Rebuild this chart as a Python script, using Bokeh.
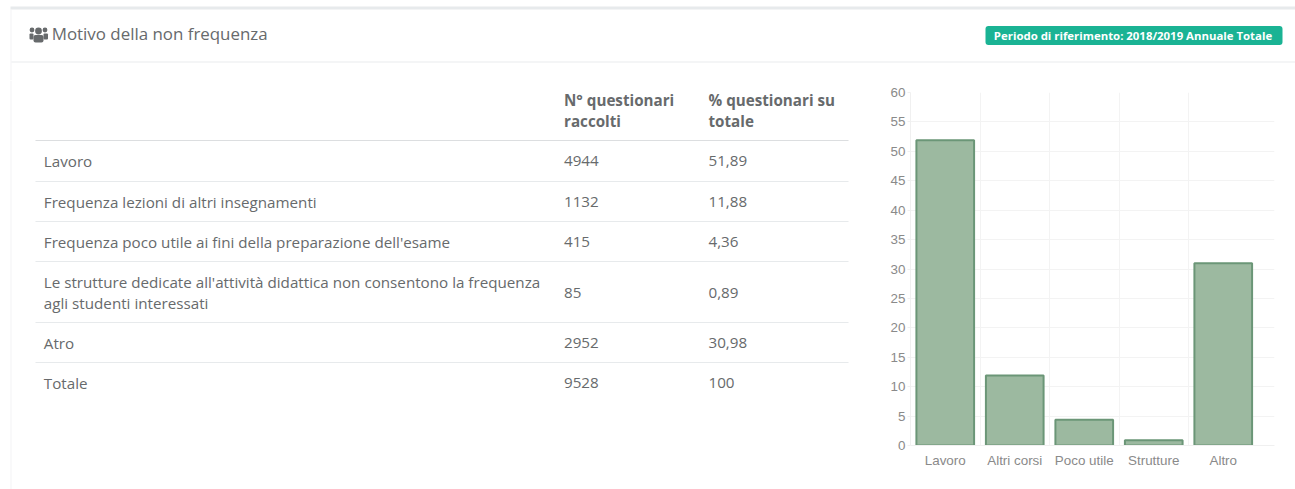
from bokeh.plotting import figure
from bokeh.embed import file_html
from bokeh.resources import INLINE
from bokeh.layouts import column, row
from bokeh.models import FixedTicker, Range1d
from bokeh.core.properties import value

# ---- data ----
short_labels = ["Lavoro", "Altri corsi", "Poco utile", "Strutture", "Altro"]
percent_values = [51.89, 11.88, 4.36, 0.89, 30.98]
y_ticks = [0, 5, 10, 15, 20, 25, 30, 35, 40, 45, 50, 55, 60]

title_text = "Motivo della non frequenza"
badge_text = "Periodo di riferimento: 2018/2019 Annuale Totale"
header_col2 = ["N° questionari", "raccolti"]
header_col3 = ["% questionari su", "totale"]
row_names = [
    ["Lavoro"],
    ["Frequenza lezioni di altri insegnamenti"],
    ["Frequenza poco utile ai fini della preparazione dell'esame"],
    ["Le strutture dedicate all'attività didattica non consentono la frequenza",
     "agli studenti interessati"],
    ["Atro"],
    ["Totale"],
]
row_counts = ["4944", "1132", "415", "85", "2952", "9528"]
row_percents = ["51,89", "11,88", "4,36", "0,89", "30,98", "100"]

# ---- layout constants (page pixels) ----
W, H = 1295, 489
TOP_H = 80
LEFT_W = 865
FL, FR, FT, FB = 910, 1274, 92, 445
TEXT = "#676a6c"
SANS = "Open Sans"
CAT = 69.5                     # category width in px
x_end = (FR - FL) / CAT - 0.5


def canvas(width, height, x0, y0):
    f = figure(width=width, height=height, output_backend="svg", toolbar_location=None,
               x_range=Range1d(x0, x0 + width), y_range=Range1d(y0 + height, y0),
               min_border=0, x_axis_type=None, y_axis_type=None, frame_align=False)
    f.grid.visible = False
    f.outline_line_color = None
    return f


def box(f, x0, y0, x1, y1, color, radius=0):
    f.quad(left=[x0], right=[x1], top=[y0], bottom=[y1], fill_color=color,
           line_color=None, border_radius=radius)


def label(f, x, y, s, size=15.2, color=TEXT, style="normal", align="left", font=SANS):
    f.text(x=[x], y=[y], text=[s], text_font=value(font), text_font_size=value(f"{size}px"),
           text_color=color, text_font_style=style, text_align=align, text_baseline="middle")


# ---- header strip ----
top = canvas(W, TOP_H, 0, 0)
box(top, 10, 6, W, 9, "#e7eaec")
box(top, 10, 9, 11, TOP_H, "#f3f4f5")
box(top, 11, 61, W, 62, "#e9ebed")

# icon
for cx, cy, r in ((38, 30.5, 3.4), (31.5, 29.5, 2.4), (44.5, 29.5, 2.4)):
    top.circle(x=[cx], y=[cy], radius=r, fill_color=TEXT, line_color=None)
box(top, 33, 34.5, 43, 42, TEXT, 2)
box(top, 29, 33, 33, 39, TEXT, 1)
box(top, 43, 33, 47.5, 39, TEXT, 1)

label(top, 51.2, 32.5, title_text, size=16.9)

box(top, 985, 25.5, 1282, 44.5, "#1ab394", 3)
label(top, 1132.5, 34.5, badge_text, size=11.4, color="white", style="bold", align="center")

# ---- table ----
tbl = canvas(LEFT_W, H - TOP_H, 0, TOP_H)
box(tbl, 10, TOP_H, 11, H, "#f3f4f5")
for i, s in enumerate(header_col2):
    label(tbl, 563.5, 99.5 + 21 * i, s, style="bold")
for i, s in enumerate(header_col3):
    label(tbl, 708, 99.5 + 21 * i, s, style="bold")

for y in (139.5, 180.5, 220.5, 260.5, 321.5, 361.5):
    box(tbl, 35, y, 848, y + 1, "#dcdee0" if y == 139.5 else "#e7eaec")

row_centres = (160.5, 201, 241.5, 292, 342, 382.5)
for names, cnt, pct, yc in zip(row_names, row_counts, row_percents, row_centres):
    for j, s in enumerate(names):
        label(tbl, 43.3, yc + (j - (len(names) - 1) / 2) * 20.5, s)
    label(tbl, 563.5, yc, cnt)
    label(tbl, 708, yc, pct)

# ---- bar chart ----
p = figure(width=W - LEFT_W, height=H - TOP_H, output_backend="svg", toolbar_location=None,
           x_range=Range1d(-0.5, x_end), y_range=Range1d(0, 60),
           min_border_left=FL - LEFT_W, min_border_right=W - FR,
           min_border_top=FT - TOP_H, min_border_bottom=H - FB, frame_align=False)
p.outline_line_color = None

xs = list(range(len(short_labels)))
p.vbar(x=xs, top=percent_values, bottom=0, width=0.83,
       fill_color="#9cb9a0", line_color="#6b9677", line_width=2)

p.xaxis.ticker = FixedTicker(ticks=xs)
p.xaxis.major_label_overrides = {i: s for i, s in enumerate(short_labels)}
p.yaxis.ticker = FixedTicker(ticks=y_ticks)
for ax in (p.xaxis[0], p.yaxis[0]):
    ax.axis_line_color = "#f0f0f0"
    ax.minor_tick_line_color = None
    ax.major_label_text_color = "#8a8a8a"
    ax.major_label_text_font = "Liberation Sans"
    ax.major_label_text_font_size = "13.4px"
p.xaxis.major_tick_line_color = None
p.yaxis.major_tick_line_color = "#f0f0f0"
p.yaxis.major_tick_in = 0
p.yaxis.major_tick_out = 3
p.xaxis.major_label_standoff = 1
p.yaxis.major_label_standoff = 2
p.xgrid.ticker = FixedTicker(ticks=[i - 0.5 for i in range(len(short_labels))])
p.ygrid.ticker = FixedTicker(ticks=y_ticks)
p.xgrid.grid_line_color = "#f3f3f3"
p.ygrid.grid_line_color = "#f3f3f3"

page = column(top, row(tbl, p))
open("out.html", "w").write(file_html(page, INLINE))
